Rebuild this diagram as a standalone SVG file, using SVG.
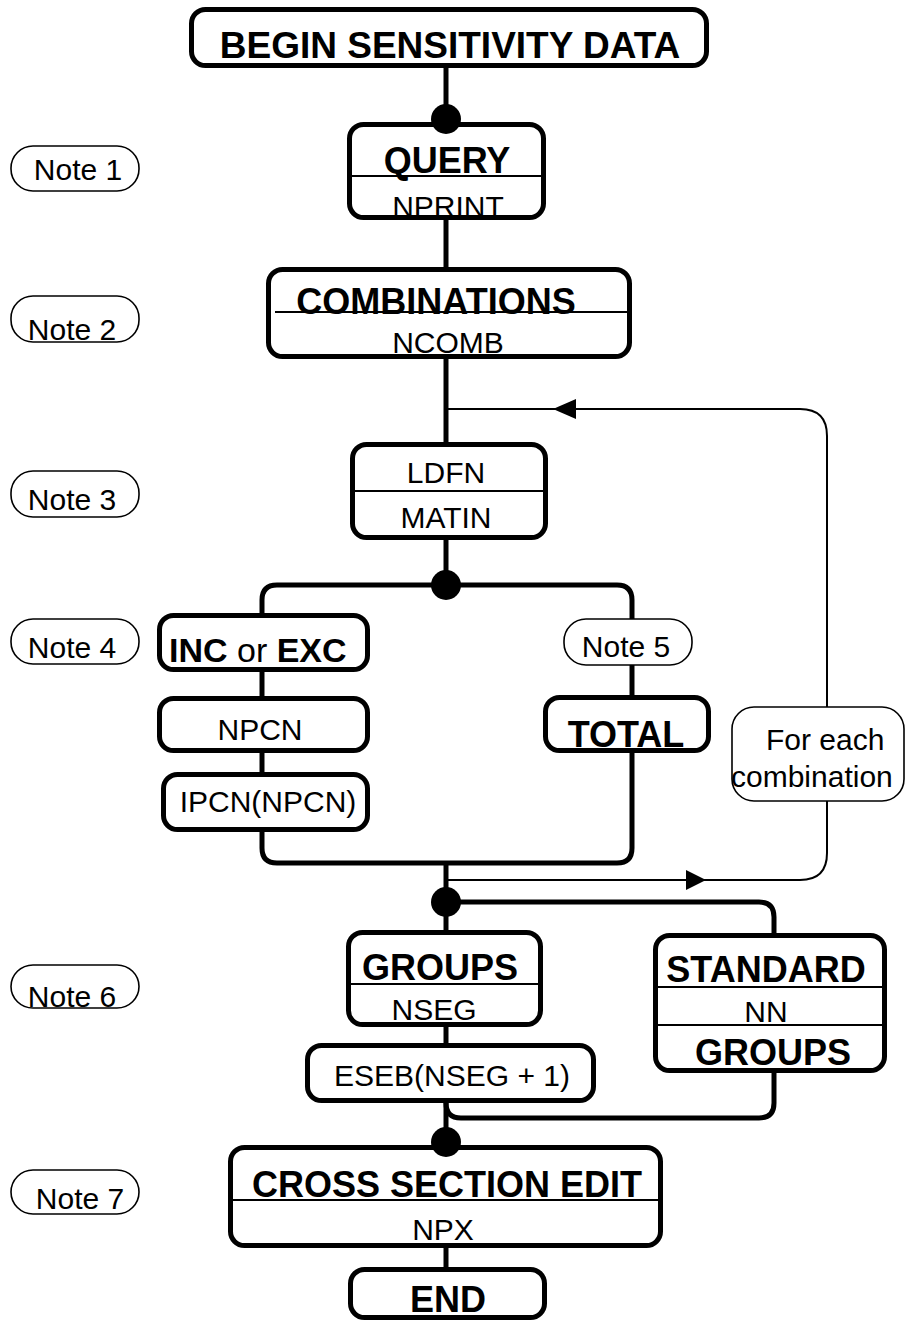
<svg xmlns="http://www.w3.org/2000/svg" width="908" height="1326" viewBox="0 0 908 1326">
<style>
  .box { fill: #fff; stroke: #000; stroke-width: 5; }
  .note { fill: #fff; stroke: #000; stroke-width: 1.6; }
  .div { stroke: #000; stroke-width: 2; fill: none; }
  .thick { stroke: #000; stroke-width: 5; fill: none; }
  .thin { stroke: #000; stroke-width: 2; fill: none; }
  .dot { fill: #000; }
  .arrow { fill: #000; }
  text { font-family: "Liberation Sans", Arial, sans-serif; fill: #000; }
  .b { font-weight: bold; font-size: 36px; text-anchor: middle; }
  .r { font-size: 30px; text-anchor: middle; }
  .rs { font-size: 30px; }
</style>

<g id="connectors">
  <line class="thick" x1="446" y1="66" x2="446" y2="120"/>
  <line class="thick" x1="446" y1="218" x2="446" y2="270"/>
  <line class="thick" x1="446" y1="357" x2="446" y2="445"/>
  <line class="thick" x1="446" y1="538" x2="446" y2="585"/>
  <path class="thick" d="M262 616 V600 Q262 585 277 585 H617 Q632 585 632 600 V619"/>
  <line class="thick" x1="262" y1="670" x2="262" y2="699"/>
  <line class="thick" x1="262" y1="751" x2="262" y2="775"/>
  <line class="thick" x1="632" y1="665" x2="632" y2="698"/>
  <path class="thick" d="M262 830 V848 Q262 863 277 863 H617 Q632 863 632 848 V751"/>
  <line class="thick" x1="446" y1="863" x2="446" y2="933"/>
  <path class="thick" d="M446 902 H759 Q774 902 774 917 V936"/>
  <line class="thick" x1="446" y1="1025" x2="446" y2="1046"/>
  <line class="thick" x1="446" y1="1101" x2="446" y2="1148"/>
  <path class="thick" d="M774 1071 V1103 Q774 1118 759 1118 H461 Q446 1118 446 1103"/>
  <line class="thick" x1="446" y1="1246" x2="446" y2="1270"/>
  <path class="thin" d="M446 409 H800 Q827 409 827 436 V707"/>
  <path class="thin" d="M827 801 V853 Q827 880 800 880 H446"/>
  <polygon class="arrow" points="553,409 576,399 576,419"/>
  <polygon class="arrow" points="706,880 686,870 686,890"/>
</g>

<g id="begin">
  <rect class="box" x="191.5" y="9.5" width="515" height="56" rx="14"/>
  <text class="b" x="450" y="58" style="font-size:37px">BEGIN SENSITIVITY DATA</text>
</g>
<g id="query">
  <rect class="box" x="349.5" y="124.5" width="194" height="93" rx="14"/>
  <line class="div" x1="349.5" y1="176" x2="543.5" y2="176"/>
  <text class="b" x="447" y="173">QUERY</text>
  <text class="r" x="448" y="217">NPRINT</text>
</g>
<g id="combinations">
  <rect class="box" x="268.5" y="269.5" width="361" height="87" rx="14"/>
  <line class="div" x1="275" y1="312" x2="629" y2="312"/>
  <text class="b" x="436" y="314">COMBINATIONS</text>
  <text class="r" x="448" y="353">NCOMB</text>
</g>
<g id="ldfn">
  <rect class="box" x="352.5" y="444.5" width="193" height="93" rx="14"/>
  <line class="div" x1="352.5" y1="491" x2="545.5" y2="491"/>
  <text class="r" x="446" y="483">LDFN</text>
  <text class="r" x="446" y="528">MATIN</text>
</g>
<g id="inc-exc">
  <rect class="box" x="159.5" y="615.5" width="208" height="54" rx="14"/>
  <text x="169" y="662" style="font-size:34px"><tspan font-weight="bold">INC</tspan> or <tspan font-weight="bold">EXC</tspan></text>
</g>
<g id="npcn">
  <rect class="box" x="159.5" y="698.5" width="208" height="52" rx="14"/>
  <text class="r" x="260" y="740">NPCN</text>
</g>
<g id="ipcn">
  <rect class="box" x="163.5" y="774.5" width="204" height="55" rx="14"/>
  <text class="r" x="268" y="812">IPCN(NPCN)</text>
</g>
<g id="note5">
  <rect class="note" x="564" y="619" width="128" height="46" rx="22"/>
  <text class="r" x="626" y="657">Note 5</text>
</g>
<g id="total">
  <rect class="box" x="545.5" y="697.5" width="163" height="53" rx="14"/>
  <text class="b" x="626" y="747">TOTAL</text>
</g>
<g id="for-each">
  <rect class="note" x="732" y="707" width="172" height="94" rx="22"/>
  <text class="rs" x="766" y="750">For each</text>
  <text class="rs" x="731" y="787">combination</text>
</g>
<g id="groups">
  <rect class="box" x="348.5" y="932.5" width="192" height="92" rx="14"/>
  <line class="div" x1="348.5" y1="984" x2="540.5" y2="984"/>
  <text class="b" x="440" y="980">GROUPS</text>
  <text class="r" x="434" y="1020">NSEG</text>
</g>
<g id="eseb">
  <rect class="box" x="307.5" y="1045.5" width="286" height="55" rx="14"/>
  <text class="r" x="452" y="1086">ESEB(NSEG + 1)</text>
</g>
<g id="standard">
  <rect class="box" x="655.5" y="935.5" width="229" height="135" rx="14"/>
  <line class="div" x1="655.5" y1="987" x2="884.5" y2="987"/>
  <line class="div" x1="655.5" y1="1025" x2="884.5" y2="1025"/>
  <text class="b" x="766" y="982">STANDARD</text>
  <text class="r" x="766" y="1022">NN</text>
  <text class="b" x="773" y="1065">GROUPS</text>
</g>
<g id="cross-section-edit">
  <rect class="box" x="230.5" y="1147.5" width="430" height="98" rx="14"/>
  <line class="div" x1="230.5" y1="1200" x2="660.5" y2="1200"/>
  <text class="b" x="447" y="1197">CROSS SECTION EDIT</text>
  <text class="r" x="443" y="1240">NPX</text>
</g>
<g id="end">
  <rect class="box" x="350.5" y="1269.5" width="194" height="48" rx="14"/>
  <text class="b" x="448" y="1312">END</text>
</g>

<g id="note1">
  <rect class="note" x="11" y="146" width="128" height="45" rx="22"/>
  <text class="r" x="78" y="180">Note 1</text>
</g>
<g id="note2">
  <rect class="note" x="11" y="296" width="128" height="46" rx="22"/>
  <text class="r" x="72" y="340">Note 2</text>
</g>
<g id="note3">
  <rect class="note" x="11" y="471" width="128" height="46" rx="22"/>
  <text class="r" x="72" y="510">Note 3</text>
</g>
<g id="note4">
  <rect class="note" x="11" y="619" width="128" height="45" rx="22"/>
  <text class="r" x="72" y="658">Note 4</text>
</g>
<g id="note6">
  <rect class="note" x="11" y="965" width="128" height="43" rx="22"/>
  <text class="r" x="72" y="1007">Note 6</text>
</g>
<g id="note7">
  <rect class="note" x="11" y="1170" width="128" height="44" rx="22"/>
  <text class="r" x="80" y="1209">Note 7</text>
</g>

<g id="junctions">
  <circle class="dot" cx="446" cy="119" r="15"/>
  <circle class="dot" cx="446" cy="585" r="15"/>
  <circle class="dot" cx="446" cy="902" r="15"/>
  <circle class="dot" cx="446" cy="1142" r="15"/>
</g>
</svg>
